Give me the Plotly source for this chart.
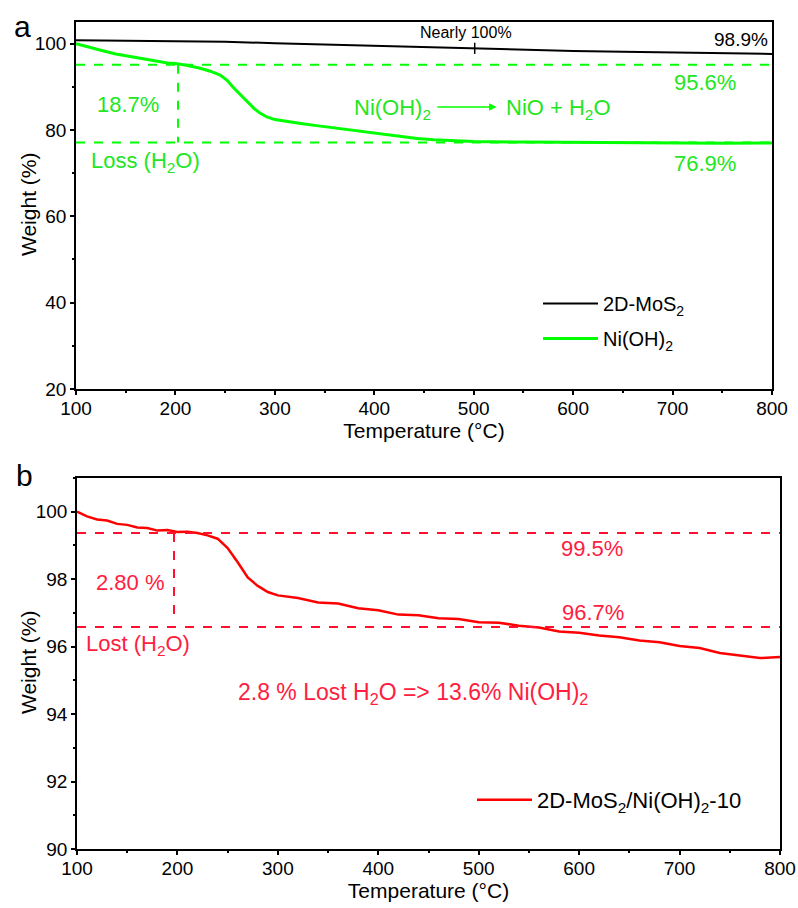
import plotly.graph_objects as go

# ---------------- data ----------------
mos2_temp = [100, 150, 200, 250, 300, 350, 400, 450, 500, 550, 600, 650, 700, 750, 800]
mos2_weight = [100.8, 100.7, 100.6, 100.4, 100.1, 99.8, 99.4, 99.1, 98.9, 98.6, 98.3, 98.1, 97.9, 97.7, 97.6]

nioh_temp = [100, 112, 124, 140, 157, 175, 192, 200, 211, 225, 235, 245, 252, 258, 265, 272, 279, 285,
             292, 300, 313, 326, 342, 359, 376, 393, 410, 426, 443, 460, 480, 500, 550, 600, 650, 700, 750, 800]
nioh_weight = [100.0, 99.2, 98.5, 97.6, 96.9, 96.1, 95.5, 95.4, 95.0, 94.3, 93.6, 92.7, 91.5, 89.9, 88.2,
               86.5, 85.0, 83.9, 83.0, 82.4, 81.9, 81.5, 81.0, 80.5, 80.0, 79.4, 78.9, 78.4, 78.0, 77.7,
               77.5, 77.3, 77.2, 77.1, 77.0, 77.0, 76.9, 77.0]

comp_temp = [100, 110, 120, 130, 140, 150, 160, 170, 180, 190, 200, 210, 220, 230, 240, 250, 260, 270,
             280, 290, 300, 320, 340, 360, 380, 400, 420, 440, 460, 480, 500, 520, 540, 560, 580, 600,
             620, 640, 660, 680, 700, 720, 740, 760, 780, 800]
comp_weight = [100.0, 99.86, 99.77, 99.74, 99.64, 99.61, 99.53, 99.52, 99.44, 99.46, 99.40, 99.41, 99.37,
               99.30, 99.20, 98.92, 98.50, 98.05, 97.80, 97.62, 97.52, 97.44, 97.31, 97.28, 97.14, 97.08,
               96.95, 96.93, 96.84, 96.82, 96.72, 96.71, 96.62, 96.57, 96.45, 96.41, 96.33, 96.28, 96.18,
               96.13, 96.02, 95.96, 95.81, 95.73, 95.66, 95.69]

x_ticks = [100, 200, 300, 400, 500, 600, 700, 800]
top_y_ticks = [20, 40, 60, 80, 100]
bot_y_ticks = [90, 92, 94, 96, 98, 100]

# reference levels
top_upper_level = 95.1
top_lower_level = 77.1
top_split_temp = 202.6
bot_upper_level = 99.37
bot_lower_level = 96.58
bot_split_temp = 196.6

BLACK = "#000000"
GREEN_LINE = "#00ff00"
GREEN_TXT = "#22e622"
RED_LINE = "#ff0000"
RED_DASH = "#ff1030"
RED_TXT = "#ff2040"
FONT = "Liberation Sans, Arial, sans-serif"

W, H = 798, 908

fig = go.Figure()

fig.add_trace(go.Scatter(x=mos2_temp, y=mos2_weight, mode="lines", name="2D-MoS<sub>2</sub>",
                         line=dict(color=BLACK, width=2), xaxis="x", yaxis="y", legend="legend",
                         legendgroup="a1"))
fig.add_trace(go.Scatter(x=nioh_temp, y=nioh_weight, mode="lines", name="Ni(OH)<sub>2</sub>",
                         line=dict(color=GREEN_LINE, width=3),
                         xaxis="x", yaxis="y", legend="legend", legendgroup="a2"))
fig.add_trace(go.Scatter(x=comp_temp, y=comp_weight, mode="lines", name="2D-MoS<sub>2</sub>/Ni(OH)<sub>2</sub>-10",
                         line=dict(color=RED_LINE, width=2.5), xaxis="x2", yaxis="y2", legend="legend2"))

def px_x(p):
    return p / W

def px_y(p):
    return 1 - p / H

axis_common = dict(showline=True, linecolor=BLACK, linewidth=1.5, mirror=True, showgrid=False,
                   zeroline=False, ticks="outside", ticklen=4, tickwidth=1.5, tickcolor=BLACK,
                   automargin=False, ticklabeloverflow="allow",
                   tickfont=dict(family=FONT, size=19, color=BLACK))
minor_x = dict(ticks="outside", dtick=50, ticklen=2.5, tickwidth=1.5, tickcolor=BLACK)

fig.update_layout(
    width=W, height=H, margin=dict(l=0, r=0, t=0, b=0),
    paper_bgcolor="white", plot_bgcolor="white",
    font=dict(family=FONT, color=BLACK),
    xaxis=dict(domain=[px_x(76), px_x(772)], range=[100, 800], anchor="y", tickvals=x_ticks,
               minor=minor_x, ticklabelstandoff=-3,
               title=dict(text="Temperature (°C)", font=dict(family=FONT, size=21), standoff=0),
               **axis_common),
    yaxis=dict(domain=[px_y(389), px_y(22)], range=[20, 105], anchor="x", tickvals=top_y_ticks,
               minor=dict(ticks="outside", dtick=10, ticklen=2.5, tickwidth=1.5, tickcolor=BLACK),
               **axis_common),
    xaxis2=dict(domain=[px_x(77), px_x(780)], range=[100, 800], anchor="y2", tickvals=x_ticks,
                minor=minor_x, ticklabelstandoff=-3,
                title=dict(text="Temperature (°C)", font=dict(family=FONT, size=21), standoff=2),
                **axis_common),
    yaxis2=dict(domain=[px_y(849), px_y(478)], range=[90, 101], anchor="x2", tickvals=bot_y_ticks,
                minor=dict(ticks="outside", dtick=1, ticklen=2.5, tickwidth=1.5, tickcolor=BLACK),
                **axis_common),
    showlegend=True,
    legend=dict(x=px_x(538), y=px_y(284), xanchor="left", yanchor="top", bgcolor="rgba(0,0,0,0)",
                font=dict(family=FONT, size=20, color=BLACK), itemwidth=55, tracegroupgap=6,
                traceorder="grouped"),
    legend2=dict(x=px_x(472), y=px_y(779), xanchor="left", yanchor="top", bgcolor="rgba(0,0,0,0)",
                 font=dict(family=FONT, size=22, color=BLACK), itemwidth=55),
)

shapes = []
# top panel dashed guides
for lvl in (top_upper_level, top_lower_level):
    shapes.append(dict(type="line", xref="x", yref="y", x0=100, x1=800, y0=lvl, y1=lvl,
                       line=dict(color=GREEN_LINE, width=2, dash="dash")))
shapes.append(dict(type="line", xref="x", yref="y", x0=top_split_temp, x1=top_split_temp,
                   y0=top_upper_level, y1=top_lower_level, line=dict(color=GREEN_LINE, width=2, dash="dash")))
# "Nearly 100%" marker tick
shapes.append(dict(type="line", xref="x", yref="y", x0=501, x1=501, y0=100.2, y1=97.6,
                   line=dict(color=BLACK, width=1.5)))
# bottom panel dashed guides
for lvl in (bot_upper_level, bot_lower_level):
    shapes.append(dict(type="line", xref="x2", yref="y2", x0=100, x1=800, y0=lvl, y1=lvl,
                       line=dict(color=RED_DASH, width=2, dash="dash")))
shapes.append(dict(type="line", xref="x2", yref="y2", x0=bot_split_temp, x1=bot_split_temp,
                   y0=bot_upper_level, y1=96.9, line=dict(color=RED_DASH, width=2, dash="dash")))
fig.update_layout(shapes=shapes)

def ann(text, x, y, xref, yref, color, size, xanchor="center", angle=0):
    return dict(text=text, x=x, y=y, xref=xref, yref=yref, showarrow=False, xanchor=xanchor,
                yanchor="middle", textangle=angle, font=dict(family=FONT, size=size, color=color))

annotations = [
    ann("a", px_x(22), px_y(26), "paper", "paper", BLACK, 30),
    ann("b", px_x(24), px_y(475), "paper", "paper", BLACK, 30),
    # y-axis titles
    ann("Weight (%)", px_x(28), px_y(205), "paper", "paper", BLACK, 21, angle=-90),
    ann("Weight (%)", px_x(28), px_y(663), "paper", "paper", BLACK, 21, angle=-90),
    # top panel
    ann("Nearly 100%", 492, 102.6, "x", "y", BLACK, 16),
    ann("98.9%", 769, 100.9, "x", "y", BLACK, 19),
    ann("95.6%", 733, 91.1, "x", "y", GREEN_TXT, 22),
    ann("76.9%", 733, 72.3, "x", "y", GREEN_TXT, 22),
    ann("18.7%", 152, 86.0, "x", "y", GREEN_TXT, 22),
    ann("Loss (H<sub>2</sub>O)", 170, 72.6, "x", "y", GREEN_TXT, 22),
    ann("Ni(OH)<sub>2</sub>", 459, 84.9, "x", "y", GREEN_TXT, 22, xanchor="right"),
    ann("NiO + H<sub>2</sub>O", 530, 84.9, "x", "y", GREEN_TXT, 22, xanchor="left"),
    dict(x=523, y=85.3, ax=462, ay=85.3, xref="x", yref="y", axref="x", ayref="y", text="",
         showarrow=True, arrowhead=2, arrowsize=1, arrowwidth=1.5, arrowcolor=GREEN_LINE),
    # bottom panel
    ann("99.5%", 613, 98.9, "x2", "y2", RED_TXT, 22),
    ann("96.7%", 614, 97.0, "x2", "y2", RED_TXT, 22),
    ann("2.80 %", 153, 97.9, "x2", "y2", RED_TXT, 22),
    ann("Lost (H<sub>2</sub>O)", 161, 96.05, "x2", "y2", RED_TXT, 22),
    ann("2.8 % Lost H<sub>2</sub>O => 13.6% Ni(OH)<sub>2</sub>", 435, 94.6, "x2", "y2", RED_TXT, 23),
]
fig.update_layout(annotations=annotations)

# remove the default page margin so the figure fills the 798x908 window exactly
fig.write_html("out.html", config={"displayModeBar": False},
               post_script="document.body.style.margin='0px';")
